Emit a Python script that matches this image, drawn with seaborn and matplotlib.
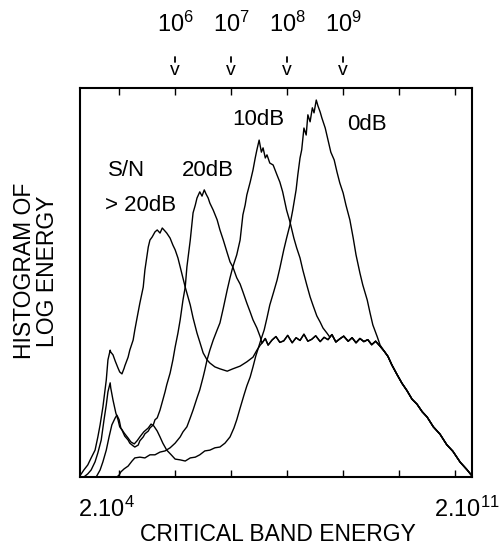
import numpy as np
import pandas as pd
import seaborn as sns
import matplotlib.pyplot as plt
from matplotlib.ticker import NullFormatter

# log10 of critical band energy / histogram height (percent of axis height)
clean_loge = [4.30, 4.37, 4.44, 4.50, 4.57, 4.62, 4.66, 4.71, 4.77, 4.80, 4.84, 4.85, 4.89, 4.93,
              4.98, 5.01, 5.05, 5.09, 5.10, 5.16, 5.19, 5.25, 5.28, 5.32, 5.37, 5.43, 5.46, 5.52,
              5.55, 5.59, 5.64, 5.68, 5.73, 5.77, 5.82, 5.85, 5.91, 5.96, 6.00, 6.05, 6.09, 6.18,
              6.27, 6.32, 6.39, 6.44, 6.50, 6.57, 6.62, 6.71, 6.80, 6.93, 7.03, 7.16, 7.28, 7.39,
              7.46, 7.52]
clean_h = [0.3, 1.8, 3.1, 4.9, 6.9, 10.3, 13.4, 18.0, 24.9, 30.1, 32.6, 32.1, 31.4, 29.8,
           28.0, 27.0, 26.5, 28.0, 28.5, 30.8, 32.6, 35.2, 37.8, 40.9, 44.7, 48.8, 53.2, 59.1,
           60.9, 61.7, 63.0, 63.5, 62.7, 64.0, 63.2, 62.7, 61.4, 59.6, 58.4, 56.3, 54.0, 48.8,
           44.2, 40.9, 37.0, 34.7, 31.9, 30.1, 29.3, 28.3, 27.8, 27.2, 27.8, 28.5, 29.6, 30.8,
           32.6, 33.9]

db20_loge = [4.37, 4.44, 4.50, 4.57, 4.62, 4.68, 4.73, 4.77, 4.80, 4.84, 4.85, 4.89, 4.94, 4.98,
             5.01, 5.05, 5.10, 5.16, 5.19, 5.25, 5.28, 5.34, 5.37, 5.43, 5.46, 5.52, 5.55, 5.61,
             5.64, 5.68, 5.73, 5.78, 5.82, 5.85, 5.91, 5.96, 6.00, 6.05, 6.09, 6.14, 6.18, 6.21,
             6.27, 6.32, 6.36, 6.39, 6.44, 6.48, 6.52, 6.55, 6.59, 6.62, 6.68, 6.75, 6.80, 6.86,
             6.93, 6.98, 7.03, 7.10, 7.16, 7.21, 7.28, 7.34, 7.39, 7.46, 7.52]
db20_h = [0.0, 0.8, 1.8, 3.9, 6.2, 9.5, 14.7, 18.5, 21.9, 24.2, 22.9, 19.8, 16.5, 14.7,
          12.9, 12.1, 10.5, 9.5, 8.7, 8.0, 7.7, 8.2, 9.3, 10.3, 11.1, 11.8, 12.6, 13.4,
          14.7, 15.2, 17.2, 19.8, 21.9, 23.7, 26.7, 30.1, 33.4, 37.0, 40.4, 45.5, 48.8, 54.0,
          60.9, 67.9, 69.9, 71.7, 73.3, 72.2, 73.8, 72.8, 71.7, 70.4, 68.6, 66.1, 63.5, 60.9,
          57.6, 55.3, 54.0, 51.2, 49.6, 47.6, 44.7, 42.4, 40.4, 38.3, 36.0]

db10_loge = [4.96, 5.00, 5.03, 5.09, 5.16, 5.23, 5.28, 5.37, 5.46, 5.55, 5.64, 5.73, 5.82, 5.91,
             6.00, 6.09, 6.14, 6.21, 6.27, 6.32, 6.39, 6.44, 6.50, 6.53, 6.57, 6.62, 6.68, 6.75,
             6.80, 6.86, 6.93, 6.98, 7.03, 7.10, 7.16, 7.21, 7.25, 7.28, 7.34, 7.39, 7.43, 7.46,
             7.50, 7.54, 7.57, 7.61, 7.64, 7.69, 7.75, 7.82, 7.87, 7.92, 7.99, 8.05, 8.12, 8.17,
             8.23, 8.28, 8.35, 8.41, 8.46, 8.53, 8.59, 8.64, 8.71, 8.76]
db10_h = [0.0, 0.5, 1.3, 2.1, 2.8, 4.1, 4.9, 5.1, 4.9, 5.7, 5.7, 6.4, 6.7, 7.5,
          8.7, 10.3, 11.6, 12.9, 15.2, 17.2, 20.3, 22.4, 25.7, 27.5, 30.1, 32.6, 35.2, 37.8,
          39.6, 43.4, 48.1, 51.2, 54.0, 57.1, 60.9, 67.4, 69.9, 72.5, 75.8, 78.9, 82.0, 84.1,
          86.6, 83.5, 84.6, 82.0, 82.8, 80.7, 80.2, 77.6, 75.8, 73.3, 68.6, 65.6, 61.4, 58.9,
          56.3, 53.2, 49.4, 46.3, 44.2, 41.4, 39.8, 38.3, 37.0, 36.0]

db0_loge = [4.59, 4.66, 4.71, 4.77, 4.82, 4.87, 4.93, 4.96, 5.00, 5.03, 5.09, 5.16, 5.21, 5.27,
            5.32, 5.37, 5.44, 5.52, 5.57, 5.62, 5.68, 5.73, 5.78, 5.85, 5.93, 6.00, 6.09, 6.18,
            6.27, 6.36, 6.44, 6.53, 6.62, 6.71, 6.80, 6.89, 6.98, 7.05, 7.10, 7.16, 7.23, 7.28,
            7.34, 7.39, 7.44, 7.48, 7.53, 7.59, 7.64, 7.69, 7.76, 7.82, 7.87, 7.94, 7.99, 8.05,
            8.10, 8.16, 8.19, 8.23, 8.26, 8.30, 8.34, 8.37, 8.41, 8.45, 8.48, 8.52, 8.55, 8.59,
            8.62, 8.68, 8.73, 8.78, 8.84, 8.89, 8.94, 9.00, 9.05, 9.12, 9.18, 9.23, 9.30, 9.35,
            9.43, 9.48, 9.53, 9.61, 9.66]
db0_h = [0.0, 1.8, 3.9, 6.9, 10.3, 13.4, 15.2, 15.9, 14.7, 12.6, 11.3, 10.0, 9.0, 8.5,
         9.3, 10.3, 11.6, 12.6, 13.6, 13.1, 11.8, 10.3, 8.7, 6.9, 5.7, 4.6, 4.4, 4.1,
         4.9, 5.1, 5.7, 6.7, 6.9, 7.5, 7.7, 8.7, 10.3, 12.6, 14.7, 17.7, 21.1, 23.4,
         25.7, 28.3, 31.1, 32.9, 35.2, 37.8, 40.9, 44.2, 47.6, 50.6, 53.7, 58.4, 61.4, 64.8,
         68.6, 73.8, 77.6, 82.0, 84.1, 89.7, 87.9, 93.1, 91.3, 94.9, 93.6, 96.9, 95.4, 93.8,
         92.3, 89.7, 86.6, 83.5, 81.5, 78.4, 75.6, 73.0, 69.9, 66.1, 61.4, 57.1, 52.4, 49.4,
         45.5, 42.2, 39.1, 36.0, 33.9]

# shared speech part (plateau + high energy tail) that all curves merge into
speech_loge = [7.55, 7.61, 7.66, 7.73, 7.80, 7.87, 7.94, 8.01, 8.09, 8.16, 8.23, 8.30, 8.37, 8.44,
               8.51, 8.59, 8.66, 8.73, 8.80, 8.87, 8.94, 9.01, 9.09, 9.16, 9.23, 9.30, 9.37, 9.44,
               9.51, 9.58, 9.66, 9.73, 9.80, 9.87, 9.96, 10.05, 10.14, 10.23, 10.32, 10.41, 10.50,
               10.61, 10.73, 10.85, 10.96, 11.09, 11.21, 11.30]
speech_h = [34.4, 35.6, 33.9, 35.2, 36.1, 34.6, 35.0, 36.4, 34.5, 35.8, 35.1, 36.7, 34.9, 35.4,
            36.3, 34.8, 35.9, 35.3, 36.6, 34.7, 35.5, 36.2, 34.9, 35.8, 34.5, 35.6, 34.8, 35.3,
            34.0, 34.9, 33.6, 32.4, 31.0, 28.8, 26.4, 24.1, 22.2, 20.0, 18.7, 16.8, 15.4,
            12.9, 11.0, 8.3, 6.6, 3.8, 1.9, 0.3]

curve_names = ['> 20dB', '20dB', '10dB', '0dB']
noise_levels = [1e6, 1e7, 1e8, 1e9]
noise_labels = ['$10^6$', '$10^7$', '$10^8$', '$10^9$']
x_range = [2e4, 2e11]
x_end_labels = ['2.10$^4$', '2.10$^{11}$']
decade_ticks = [1e5, 1e6, 1e7, 1e8, 1e9, 1e10, 1e11]

rows = []
for name, le, h in zip(curve_names,
                       [clean_loge, db20_loge, db10_loge, db0_loge],
                       [clean_h, db20_h, db10_h, db0_h]):
    le = list(le)
    h = list(h)
    for sl, sh in zip(speech_loge, speech_h):
        if sl > le[-1] + 0.02:
            le.append(sl)
            h.append(sh)
    for a, b in zip(le, h):
        rows.append({'snr': name, 'energy': 10 ** a, 'count': b})
df = pd.DataFrame(rows)

sns.set_style('white')
plt.rcParams['font.family'] = ['Liberation Sans', 'DejaVu Sans']
plt.rcParams['mathtext.fontset'] = 'custom'
plt.rcParams['mathtext.rm'] = 'Liberation Sans'
plt.rcParams['mathtext.it'] = 'Liberation Sans'
plt.rcParams['text.color'] = 'black'
plt.rcParams['axes.labelcolor'] = 'black'

fig = plt.figure(figsize=(5, 5.45), dpi=100)
ax = fig.add_axes([0.16, 0.1248, 0.784, 0.7138])

for name in curve_names:
    sub = df[df['snr'] == name]
    sns.lineplot(data=sub, x='energy', y='count', color='black', lw=1.0,
                 estimator=None, sort=False, ax=ax)

ax.set_xscale('log')
ax.set_xlim(x_range)
ax.set_ylim(0, 100)
ax.set_yticks([])
ax.set_xticks(x_range)
ax.set_xticklabels(['', ''])
ax.tick_params(axis='x', which='major', length=0)
ax.set_xticks(decade_ticks, minor=True)
ax.xaxis.set_minor_formatter(NullFormatter())
ax.tick_params(axis='x', which='minor', direction='in', length=5, width=1,
               top=True, bottom=True, color='black')
for s in ax.spines.values():
    s.set_color('black')
    s.set_linewidth(1.5)

# end labels of the energy axis
ax.annotate(x_end_labels[0], xy=(x_range[0], 0), xycoords=('data', 'axes fraction'),
            xytext=(-2, -20), textcoords='offset pixels', ha='left', va='top', fontsize=17)
ax.annotate(x_end_labels[1], xy=(x_range[1], 0), xycoords=('data', 'axes fraction'),
            xytext=(28, -20), textcoords='offset pixels', ha='right', va='top', fontsize=17)

ax.set_xlabel('CRITICAL BAND ENERGY', fontsize=16.5, va='center')
ax.xaxis.set_label_coords(0.505, -0.147)
ax.set_ylabel('HISTOGRAM OF\nLOG ENERGY', fontsize=16.5, va='center', ha='center',
              linespacing=1.0)
ax.yaxis.set_label_coords(-0.112, 0.53)

# noise level markers above the plot
xt = ax.get_xaxis_transform()
for e, lab in zip(noise_levels, noise_labels):
    ax.text(e, 1.13, lab, transform=xt, ha='center', va='bottom', fontsize=17)
    ax.text(e, 1.045, 'v', transform=xt, ha='center', va='center', fontsize=14)
    ax.plot([e, e], [1.066, 1.079], transform=xt, color='black', lw=1.3, clip_on=False)

# curve labels
ax.text(10 ** 4.80, 78.9, 'S/N', ha='left', va='center', fontsize=16)
ax.text(10 ** 4.75, 69.9, '> 20dB', ha='left', va='center', fontsize=16)
ax.text(10 ** 6.12, 78.9, '20dB', ha='left', va='center', fontsize=16)
ax.text(10 ** 7.015, 91.8, '10dB', ha='left', va='center', fontsize=16)
ax.text(10 ** 9.07, 90.5, '0dB', ha='left', va='center', fontsize=16)

fig.savefig('out.png', dpi=100, facecolor='white')
